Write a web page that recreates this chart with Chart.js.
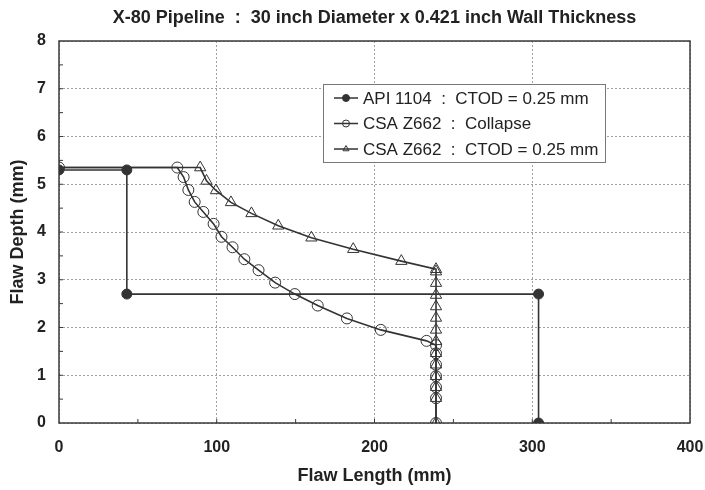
<!DOCTYPE html>
<html>
<head>
<meta charset="utf-8">
<script src="https://cdn.jsdelivr.net/npm/chart.js@4.4.1/dist/chart.umd.min.js"></script>
<style>
  html, body { margin: 0; padding: 0; background: #fff; }
  #wrap { width: 705px; height: 490px; }
</style>
</head>
<body>
<div id="wrap"><canvas id="flaw-chart"></canvas></div>
<script>
// API 1104 : CTOD = 0.25 mm
const apiLength = [0, 43, 43, 304, 304];
const apiDepth  = [5.30, 5.30, 2.70, 2.70, 0];

// CSA Z662 : Collapse
const collapseLength = [0, 75, 79, 82, 86, 91.5, 98, 103, 110, 117.5, 126.5, 137, 149.5, 164, 182.5, 204, 233, 239, 239, 239, 239, 239, 239, 239];
const collapseDepth  = [5.35, 5.35, 5.15, 4.88, 4.63, 4.42, 4.17, 3.90, 3.68, 3.43, 3.20, 2.94, 2.70, 2.46, 2.19, 1.95, 1.72, 1.63, 1.46, 1.22, 0.98, 0.75, 0.52, 0];

// CSA Z662 : CTOD = 0.25 mm
const ctodLength = [0, 89.5, 93.5, 99.5, 109, 122, 139, 160, 186.5, 217, 239, 239, 239, 239, 239, 239, 239, 239, 239, 239, 239, 239, 239, 239];
const ctodDepth  = [5.35, 5.35, 5.07, 4.87, 4.62, 4.39, 4.13, 3.88, 3.64, 3.39, 3.22, 3.17, 2.93, 2.68, 2.44, 2.20, 1.95, 1.71, 1.46, 1.22, 0.98, 0.75, 0.52, 0];

const seriesNames = ["API 1104  :  CTOD = 0.25 mm", "CSA Z662  :  Collapse", "CSA Z662  :  CTOD = 0.25 mm"];
const xTicks = [0, 100, 200, 300, 400];
const yTicks = [0, 1, 2, 3, 4, 5, 6, 7, 8];

const FONT = "'Liberation Sans', Arial, sans-serif";
const INK = "#222";
const LINE = "#333";

function pts(xs, ys) {
  return xs.map((x, i) => ({ x: x, y: ys[i] }));
}

// frame round the plot area, with small inward ticks every half step
const framePlugin = {
  id: 'frame',
  beforeDatasetsDraw(chart) {
    const { ctx, chartArea: a, scales } = chart;
    ctx.save();
    ctx.strokeStyle = "#3a3a3a";
    ctx.lineWidth = 1.5;
    ctx.setLineDash([]);
    ctx.strokeRect(a.left, a.top, a.right - a.left, a.bottom - a.top);
    ctx.lineWidth = 1;
    ctx.beginPath();
    for (let v = 50; v < 400; v += 50) {
      const px = scales.x.getPixelForValue(v);
      ctx.moveTo(px, a.bottom);
      ctx.lineTo(px, a.bottom - 4);
    }
    for (let v = 0.5; v < 8; v += 0.5) {
      const py = scales.y.getPixelForValue(v);
      ctx.moveTo(a.left, py);
      ctx.lineTo(a.left + 4, py);
    }
    ctx.stroke();
    ctx.restore();
  }
};

// legend box inside the plot, like the original
const boxLegend = {
  id: 'boxLegend',
  afterDraw(chart) {
    const { ctx } = chart;
    const x0 = 323, y0 = 84, w = 282, h = 78;
    ctx.save();
    ctx.fillStyle = "#fff";
    ctx.fillRect(x0, y0, w, h);
    ctx.strokeStyle = "#777";
    ctx.lineWidth = 1;
    ctx.strokeRect(x0 + 0.5, y0 + 0.5, w, h);
    ctx.font = "17px " + FONT;
    ctx.textBaseline = "middle";
    chart.data.datasets.forEach((ds, i) => {
      const cy = y0 + 14 + i * 25.5;
      ctx.strokeStyle = LINE;
      ctx.lineWidth = 1.5;
      ctx.beginPath();
      ctx.moveTo(x0 + 11, cy);
      ctx.lineTo(x0 + 35, cy);
      ctx.stroke();
      ctx.fillStyle = ds.pointBackgroundColor === LINE ? LINE : "rgba(0,0,0,0)";
      ctx.lineWidth = 1;
      Chart.helpers.drawPoint(ctx, { pointStyle: ds.pointStyle, radius: 3.5, borderWidth: 1, rotation: 0 }, x0 + 23, cy);
      ctx.fillStyle = INK;
      ctx.fillText(ds.label, x0 + 40, cy + 1);
    });
    ctx.restore();
  }
};

new Chart(document.getElementById("flaw-chart"), {
  type: 'scatter',
  data: {
    datasets: [{
      label: seriesNames[0],
      data: pts(apiLength, apiDepth),
      showLine: true,
      borderColor: LINE,
      borderWidth: 1.6,
      pointStyle: 'circle',
      pointRadius: 5,
      pointBackgroundColor: LINE,
      pointBorderColor: LINE,
      pointBorderWidth: 1
    }, {
      label: seriesNames[1],
      data: pts(collapseLength, collapseDepth),
      showLine: true,
      borderColor: LINE,
      borderWidth: 1.6,
      pointStyle: 'circle',
      pointRadius: 5.5,
      pointBackgroundColor: "rgba(0,0,0,0)",
      pointBorderColor: LINE,
      pointBorderWidth: 1
    }, {
      label: seriesNames[2],
      data: pts(ctodLength, ctodDepth),
      showLine: true,
      borderColor: LINE,
      borderWidth: 1.6,
      pointStyle: 'triangle',
      pointRadius: ctodLength.map((x, i) => i === 0 ? 0 : 6.5),
      pointBackgroundColor: "rgba(0,0,0,0)",
      pointBorderColor: LINE,
      pointBorderWidth: 1
    }]
  },
  options: {
    responsive: true,
    maintainAspectRatio: false,
    animation: false,
    layout: { padding: { left: 0, right: 15, top: 0, bottom: 0 } },
    plugins: {
      legend: { display: false },
      tooltip: { enabled: false },
      title: {
        display: true,
        text: 'X-80 Pipeline  :  30 inch Diameter x 0.421 inch Wall Thickness',
        color: INK,
        font: { family: FONT, size: 18, weight: 'bold' },
        padding: { top: 7, bottom: 12.4 },
        fullSize: false
      }
    },
    scales: {
      x: {
        type: 'linear',
        min: 0,
        max: 400,
        afterBuildTicks: s => { s.ticks = xTicks.map(v => ({ value: v })); },
        afterFit: s => { s.height = 67; s.paddingLeft = 0; s.paddingRight = 0; },
        ticks: { color: INK, font: { family: FONT, size: 16, weight: 'bold' }, padding: 15 },
        grid: { color: "#a0a0a0", lineWidth: 1, drawTicks: false },
        border: { display: false, dash: [2, 2] },
        title: {
          display: true,
          text: 'Flaw Length (mm)',
          color: INK,
          font: { family: FONT, size: 18, weight: 'bold' },
          padding: { top: 3, bottom: 3 }
        }
      },
      y: {
        type: 'linear',
        min: 0,
        max: 8,
        afterBuildTicks: s => { s.ticks = yTicks.map(v => ({ value: v })); },
        afterFit: s => { s.width = 59; },
        ticks: { color: INK, font: { family: FONT, size: 16, weight: 'bold' }, padding: 13 },
        grid: { color: "#a0a0a0", lineWidth: 1, drawTicks: false },
        border: { display: false, dash: [2, 2] },
        title: {
          display: true,
          text: 'Flaw Depth (mm)',
          color: INK,
          font: { family: FONT, size: 18, weight: 'bold' },
          padding: { top: 7, bottom: 4 }
        }
      }
    }
  },
  plugins: [framePlugin, boxLegend]
});
</script>
</body>
</html>
